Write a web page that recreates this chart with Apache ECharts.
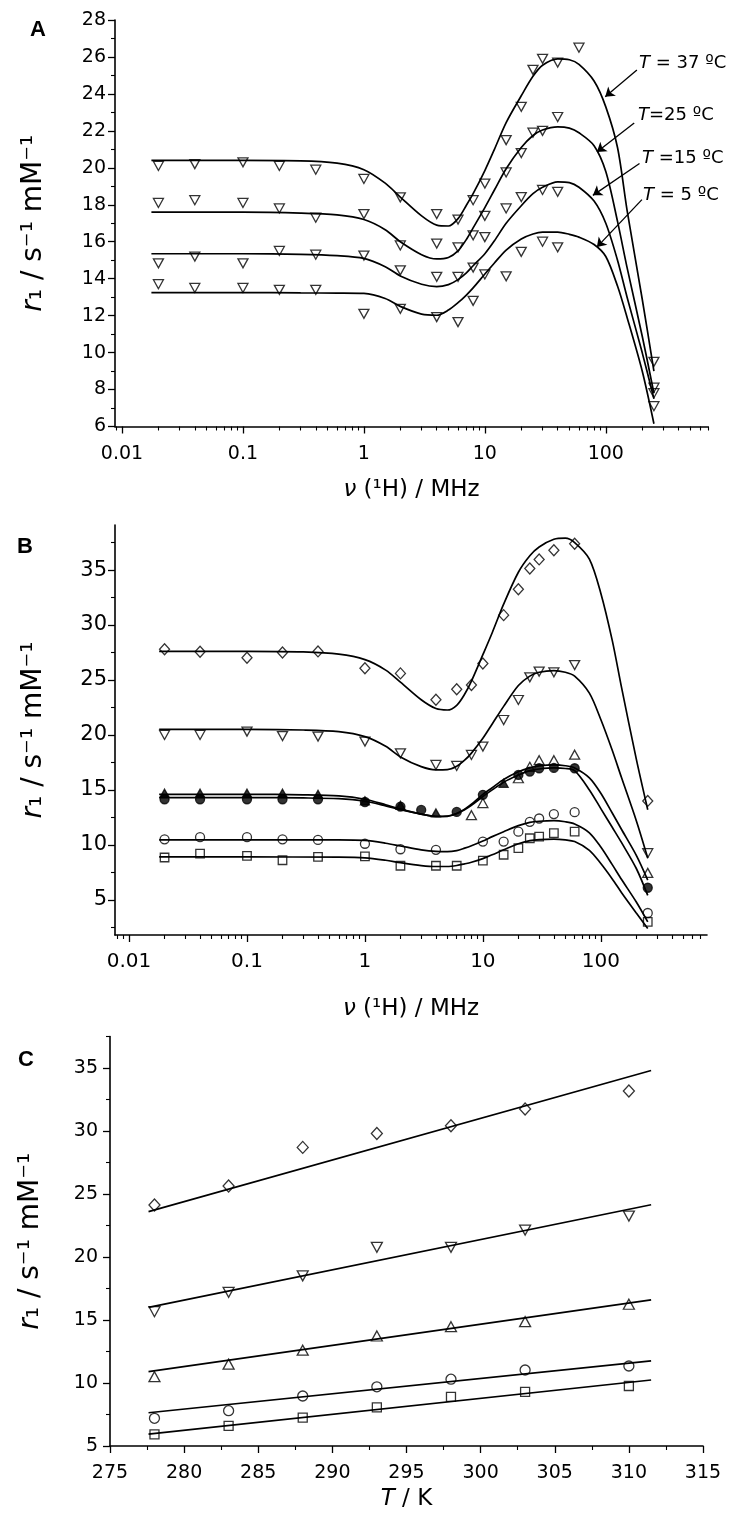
<!DOCTYPE html>
<html>
<head>
<meta charset="utf-8">
<script src="https://cdn.jsdelivr.net/npm/echarts@6/dist/echarts.min.js"></script>
<style>
html,body{margin:0;padding:0;background:#ffffff;}
#chart{width:739px;height:1525px;}
</style>
</head>
<body>
<div id="chart"></div>
<script>
// ---------------- Panel A : NMRD profiles at four temperatures ----------------
const A_T37_pts = [[0.02,20.1],[0.04,20.2],[0.1,20.3],[0.2,20.1],[0.4,19.9],[1,19.4],[2,18.4],[4,17.5],[6,17.2],[8,18.25],[10,19.15],[15,21.5],[20,23.3],[25,25.3],[30,25.9],[40,25.7],[60,26.5],[250,9.5]];
const A_T25_pts = [[0.02,18.1],[0.04,18.25],[0.1,18.1],[0.2,17.8],[0.4,17.3],[1,17.5],[2,15.8],[4,15.9],[6,15.7],[8,16.35],[10,17.4],[15,19.75],[20,20.8],[25,21.9],[30,22.0],[40,22.75],[250,8.1]];
const A_T15_pts = [[0.02,14.83],[0.04,15.2],[0.1,14.83],[0.2,15.5],[0.4,15.3],[1,15.25],[2,14.45],[4,14.1],[6,14.1],[8,14.6],[10,16.25],[15,17.8],[20,18.42],[30,18.8],[40,18.7],[250,7.8]];
const A_T5_pts  = [[0.02,13.7],[0.04,13.5],[0.1,13.5],[0.2,13.4],[0.4,13.4],[1,12.1],[2,12.37],[4,11.92],[6,11.65],[8,12.8],[10,14.23],[15,14.13],[20,15.45],[30,16.0],[40,15.7],[250,7.1]];

const A_T37_fit = [[0.0175,20.4],[0.1,20.4],[0.3,20.38],[0.6,20.25],[1,19.9],[1.5,19.17],[2,18.42],[3,17.4],[4,16.9],[5,16.85],[6,17.25],[7,17.95],[8,18.6],[10,19.85],[12,21.0],[15,22.45],[20,23.9],[25,24.95],[30,25.55],[40,25.9],[50,25.85],[60,25.6],[80,24.7],[100,23.3],[125,21.1],[150,17.7],[200,12.9],[250,9.0]];
const A_T25_fit = [[0.0175,17.6],[0.1,17.6],[0.3,17.55],[0.6,17.45],[1,17.2],[1.5,16.65],[2,16.0],[3,15.3],[4,15.07],[5,15.15],[6,15.5],[7,16.1],[8,16.75],[10,17.85],[12,18.8],[15,19.95],[20,21.1],[25,21.75],[30,22.05],[40,22.22],[50,22.15],[60,21.9],[80,21.2],[100,19.8],[125,17.1],[150,14.6],[200,10.9],[250,7.8]];
const A_T15_fit = [[0.0175,15.35],[0.1,15.35],[0.3,15.32],[0.6,15.25],[1,15.1],[1.5,14.65],[2,14.15],[3,13.7],[4,13.57],[5,13.68],[6,13.95],[7,14.3],[8,14.7],[10,15.35],[12,16.05],[15,17.0],[20,17.95],[25,18.6],[30,18.95],[40,19.24],[50,19.2],[60,18.95],[80,18.2],[100,17.0],[125,15.0],[150,13.0],[200,10.0],[250,7.5]];
const A_T5_fit  = [[0.0175,13.25],[0.1,13.25],[0.3,13.23],[0.6,13.22],[1,13.2],[1.5,12.93],[2,12.5],[3,12.08],[4,12.02],[5,12.3],[6,12.7],[7,13.1],[8,13.5],[10,14.25],[12,14.85],[15,15.55],[20,16.15],[25,16.42],[30,16.52],[40,16.52],[50,16.4],[60,16.25],[80,15.85],[100,15.2],[125,13.6],[150,11.9],[200,9.0],[250,6.15]];

const A_labels = ['T = 37 ºC', 'T=25 ºC', 'T =15 ºC', 'T = 5 ºC'];
// arrow [from, to] in data units (MHz, r1)
const A_arrows = [[[180.8,25.29],[98.9,23.84]],[[171.8,22.43],[84.4,20.86]],[[190,20.23],[78.2,18.51]],[[199,18.28],[84.4,15.71]]];

// ---------------- Panel B : NMRD profiles of different samples ----------------
const B_diamond_pts  = [[0.02,27.79],[0.04,27.57],[0.1,27.03],[0.2,27.5],[0.4,27.6],[1,26.06],[2,25.6],[4,23.2],[6,24.15],[8,24.55],[10,26.5],[15,30.9],[20,33.25],[25,35.15],[30,35.97],[40,36.8],[60,37.4],[250,14.0]];
const B_downTri_pts  = [[0.02,20.0],[0.04,20.0],[0.1,20.3],[0.2,19.9],[0.4,19.85],[1,19.4],[2,18.33],[4,17.27],[6,17.18],[8,18.18],[10,18.94],[15,21.36],[20,23.18],[25,25.24],[30,25.76],[40,25.7],[60,26.36],[250,9.24]];
const B_upTri_pts    = [[8,12.7],[10,13.8],[20,16.06],[25,17.1],[30,17.7],[40,17.7],[60,18.2],[250,7.45]];
const B_upTriF_pts   = [[0.02,14.7],[0.04,14.7],[0.1,14.7],[0.2,14.7],[0.4,14.6],[1,14.0],[2,13.6],[4,12.9],[15,15.6]];
const B_dotF_pts     = [[0.02,14.15],[0.04,14.15],[0.1,14.15],[0.2,14.15],[0.4,14.15],[1,13.9],[2,13.48],[3,13.18],[6,13.0],[10,14.55],[20,16.36],[25,16.67],[30,16.97],[40,17.0],[60,16.97],[250,6.1]];
const B_circle_pts   = [[0.02,10.5],[0.04,10.7],[0.1,10.7],[0.2,10.5],[0.4,10.45],[1,10.1],[2,9.6],[4,9.55],[10,10.3],[15,10.3],[20,11.2],[25,12.1],[30,12.4],[40,12.8],[60,12.97],[250,3.8]];
const B_square_pts   = [[0.02,8.85],[0.04,9.2],[0.1,9.0],[0.2,8.6],[0.4,8.9],[1,8.95],[2,8.1],[4,8.1],[6,8.1],[10,8.57],[15,9.1],[20,9.7],[25,10.6],[30,10.75],[40,11.06],[60,11.2],[250,3.0]];

const B_diamond_fit  = [[0.018,27.6],[0.1,27.6],[0.3,27.55],[0.6,27.35],[1,26.85],[1.5,25.9],[2,24.8],[3,23.2],[4,22.4],[5,22.27],[6,22.7],[7,23.7],[8,24.9],[10,27.3],[12,29.3],[15,31.9],[20,34.8],[25,36.3],[30,37.1],[40,37.8],[50,37.9],[60,37.5],[80,36.0],[100,32.9],[125,28.6],[150,24.3],[200,17.8],[250,13.2]];
const B_downTri_fit  = [[0.018,20.5],[0.1,20.5],[0.3,20.45],[0.6,20.3],[1,19.85],[1.5,18.97],[2,18.0],[3,17.12],[4,16.83],[5,16.85],[6,17.15],[7,17.7],[8,18.35],[10,19.7],[12,21.0],[15,22.6],[20,24.5],[25,25.35],[30,25.7],[40,25.85],[50,25.7],[60,25.35],[80,23.8],[100,21.4],[125,18.6],[150,16.1],[200,12.2],[250,8.8]];
const B_upTri_fit    = [[0.018,14.6],[0.1,14.6],[0.3,14.55],[0.6,14.45],[1,14.15],[1.5,13.65],[2,13.25],[3,12.8],[4,12.58],[5,12.6],[6,12.85],[7,13.25],[8,13.7],[10,14.6],[12,15.2],[15,15.95],[20,16.65],[25,17.0],[30,17.18],[40,17.27],[50,17.2],[60,17.0],[80,16.1],[100,14.7],[125,12.9],[150,11.4],[200,9.05],[250,6.8]];
const B_dotF_fit     = [[0.018,14.3],[0.1,14.3],[0.3,14.27],[0.6,14.2],[1,13.97],[1.5,13.55],[2,13.2],[3,12.8],[4,12.6],[5,12.62],[6,12.85],[7,13.2],[8,13.6],[10,14.4],[12,15.0],[15,15.7],[20,16.35],[25,16.75],[30,16.9],[40,17.0],[50,16.95],[60,16.75],[80,15.0],[100,13.3],[125,11.6],[150,10.2],[200,7.85],[250,5.4]];
const B_circle_fit   = [[0.018,10.45],[0.1,10.45],[0.6,10.45],[1,10.4],[1.5,10.15],[2,9.9],[3,9.55],[4,9.4],[5,9.38],[6,9.48],[7,9.7],[8,9.92],[10,10.35],[12,10.75],[15,11.2],[20,11.75],[25,12.05],[30,12.15],[40,12.2],[50,12.1],[60,11.9],[80,11.1],[100,9.8],[125,8.2],[150,6.85],[200,4.8],[250,3.0]];
const B_square_fit   = [[0.018,8.9],[0.1,8.9],[0.6,8.88],[1,8.82],[1.5,8.6],[2,8.38],[3,8.12],[4,8.03],[5,8.03],[6,8.12],[7,8.27],[8,8.42],[10,8.75],[12,9.1],[15,9.55],[20,10.1],[25,10.38],[30,10.48],[40,10.52],[50,10.45],[60,10.3],[80,9.5],[100,8.3],[125,6.9],[150,5.65],[200,3.8],[250,2.4]];

// ---------------- Panel C : r1 versus temperature ----------------
const C_diamond_pts = [[278,24.13],[283,25.63],[288,28.7],[293,29.8],[298,30.42],[303,31.75],[310,33.17]];
const C_downTri_pts = [[278,15.66],[283,17.2],[288,18.5],[293,20.77],[298,20.77],[303,22.14],[310,23.25]];
const C_upTri_pts   = [[278,10.5],[283,11.5],[288,12.6],[293,13.73],[298,14.47],[303,14.87],[310,16.25]];
const C_circle_pts  = [[278,7.2],[283,7.8],[288,8.97],[293,9.7],[298,10.3],[303,11.03],[310,11.35]];
const C_square_pts  = [[278,5.93],[283,6.6],[288,7.25],[293,8.07],[298,8.9],[303,9.3],[310,9.76]];
const C_diamond_fit = [[277.6,23.6],[311.5,34.8]];
const C_downTri_fit = [[277.6,16.0],[311.5,24.15]];
const C_upTri_fit   = [[277.6,10.9],[311.5,16.6]];
const C_circle_fit  = [[277.6,7.64],[311.5,11.75]];
const C_square_fit  = [[277.6,5.95],[311.5,10.24]];

// ---------------- tick values ----------------
const LOG_major = [0.01, 0.1, 1, 10, 100];
const B_yMajor = [5, 10, 15, 20, 25, 30, 35];
const B_yMinor = [2.5, 7.5, 12.5, 17.5, 22.5, 27.5, 32.5, 37.5];
const C_yMajor = [5, 10, 15, 20, 25, 30, 35];
const C_yMinor = [7.5, 12.5, 17.5, 22.5, 27.5, 32.5, 37.5];

function logMinor(lo, hi) {
  const out = [];
  for (let e = -3; e <= 3; e++) {
    for (let m = 2; m <= 9; m++) {
      const v = +(m * Math.pow(10, e)).toPrecision(3);
      if (v >= lo && v <= hi) out.push(v);
    }
  }
  return out;
}

const FONT = 'DejaVu Sans';
const BLACK = '#000';
const lineW = 1.6;

function fmtLog(v) {
  return v >= 1 ? String(Math.round(v)) : String(+(+v).toPrecision(2));
}

function mainLogX(grid, min, max, name, gap, labSize, labMargin) {
  return {
    type: 'log', logBase: 10, gridIndex: grid, min: min, max: max, position: 'bottom',
    axisLine: { show: true, onZero: false, lineStyle: { color: BLACK, width: lineW } },
    axisTick: { show: true, inside: false, length: 7, customValues: LOG_major, lineStyle: { color: BLACK, width: 1.3 } },
    axisLabel: { show: true, customValues: LOG_major, margin: labMargin, fontFamily: FONT, fontSize: labSize, color: BLACK, formatter: fmtLog },
    splitLine: { show: false }, minorTick: { show: false }, minorSplitLine: { show: false },
    name: name, nameLocation: 'middle', nameGap: gap,
    nameTextStyle: { fontFamily: FONT, fontSize: 23, color: BLACK, rich: { i: { fontFamily: FONT, fontSize: 23, fontStyle: 'italic', color: BLACK } } }
  };
}
function minorLogX(grid, min, max) {
  return {
    type: 'log', logBase: 10, gridIndex: grid, min: min, max: max, position: 'bottom',
    axisLine: { show: false, onZero: false },
    axisTick: { show: true, inside: false, length: 4, customValues: logMinor(min, max), lineStyle: { color: BLACK, width: 1.1 } },
    axisLabel: { show: false }, splitLine: { show: false }
  };
}
function yName(gap) {
  return {
    name: '{i|r}₁ / s⁻¹ mM⁻¹', nameLocation: 'middle', nameRotate: 90, nameGap: gap,
    nameTextStyle: { fontFamily: FONT, fontSize: 28, color: BLACK, rich: { i: { fontFamily: FONT, fontSize: 28, fontStyle: 'italic', color: BLACK } } }
  };
}

const xAxes = [
  mainLogX(0, 0.00875, 700, '{i|ν} (¹H) / MHz', 52, 19, 18),
  minorLogX(0, 0.00875, 700),
  mainLogX(1, 0.0076, 795, '{i|ν} (¹H) / MHz', 63, 20, 17),
  minorLogX(1, 0.0076, 795),
  {
    type: 'value', gridIndex: 2, min: 275, max: 315, interval: 5, position: 'bottom',
    axisLine: { show: true, onZero: false, lineStyle: { color: BLACK, width: lineW } },
    axisTick: { show: true, inside: false, length: 7, lineStyle: { color: BLACK, width: 1.3 } },
    minorTick: { show: true, splitNumber: 2, length: 4, lineStyle: { color: BLACK, width: 1.1 } },
    axisLabel: { margin: 18, fontFamily: FONT, fontSize: 19, color: BLACK },
    splitLine: { show: false },
    name: '{i|T} / K', nameLocation: 'middle', nameGap: 42,
    nameTextStyle: { fontFamily: FONT, fontSize: 23, color: BLACK, rich: { i: { fontFamily: FONT, fontSize: 23, fontStyle: 'italic', color: BLACK } } }
  }
];

const yAxes = [
  Object.assign({
    type: 'value', gridIndex: 0, min: 6, max: 28, interval: 2, position: 'left',
    axisLine: { show: true, onZero: false, lineStyle: { color: BLACK, width: lineW } },
    axisTick: { show: true, inside: false, length: 7, lineStyle: { color: BLACK, width: 1.3 } },
    minorTick: { show: true, splitNumber: 2, length: 4, lineStyle: { color: BLACK, width: 1.1 } },
    axisLabel: { margin: 9, fontFamily: FONT, fontSize: 19, color: BLACK },
    splitLine: { show: false }
  }, yName(67)),
  Object.assign({
    type: 'value', gridIndex: 1, min: 1.8, max: 39.1, position: 'left',
    axisLine: { show: true, onZero: false, lineStyle: { color: BLACK, width: lineW } },
    axisTick: { show: true, inside: false, length: 7, customValues: B_yMajor, lineStyle: { color: BLACK, width: 1.3 } },
    axisLabel: { customValues: B_yMajor, margin: 8, fontFamily: FONT, fontSize: 21, color: BLACK },
    splitLine: { show: false }
  }, yName(67)),
  {
    type: 'value', gridIndex: 1, min: 1.8, max: 39.1, position: 'left',
    axisLine: { show: false, onZero: false },
    axisTick: { show: true, inside: false, length: 4, customValues: B_yMinor, lineStyle: { color: BLACK, width: 1.1 } },
    axisLabel: { show: false }, splitLine: { show: false }
  },
  Object.assign({
    type: 'value', gridIndex: 2, min: 5, max: 37.5, position: 'left',
    axisLine: { show: true, onZero: false, lineStyle: { color: BLACK, width: lineW } },
    axisTick: { show: true, inside: false, length: 7, customValues: C_yMajor, lineStyle: { color: BLACK, width: 1.3 } },
    axisLabel: { customValues: C_yMajor, margin: 12, fontFamily: FONT, fontSize: 19, color: BLACK },
    splitLine: { show: false }
  }, yName(65)),
  {
    type: 'value', gridIndex: 2, min: 5, max: 37.5, position: 'left',
    axisLine: { show: false, onZero: false },
    axisTick: { show: true, inside: false, length: 4, customValues: C_yMinor, lineStyle: { color: BLACK, width: 1.1 } },
    axisLabel: { show: false }, splitLine: { show: false }
  }
];

// axis index lookup: [xAxisIndex, yAxisIndex] per panel
const AX = { A: [0, 0], B: [2, 1], C: [4, 3] };

function fitLine(panel, data, extra) {
  return Object.assign({
    type: 'line', xAxisIndex: AX[panel][0], yAxisIndex: AX[panel][1], data: data,
    showSymbol: false, symbol: 'none', smooth: panel === 'C' ? false : 0.3,
    lineStyle: { color: BLACK, width: 1.7 }, silent: true, z: 2
  }, extra || {});
}
const SHAPES = {
  down:    { symbol: 'triangle', symbolRotate: 180, symbolSize: [10, 9] },
  up:      { symbol: 'triangle', symbolRotate: 0, symbolSize: [10, 9] },
  diamond: { symbol: 'diamond', symbolRotate: 0, symbolSize: [10, 11] },
  circle:  { symbol: 'circle', symbolRotate: 0, symbolSize: 9 },
  square:  { symbol: 'rect', symbolRotate: 0, symbolSize: 8.5 }
};
function marks(panel, data, shape, filled, size) {
  const s = SHAPES[shape];
  return {
    type: 'scatter', xAxisIndex: AX[panel][0], yAxisIndex: AX[panel][1], data: data,
    symbol: s.symbol, symbolRotate: s.symbolRotate, symbolSize: size || s.symbolSize,
    itemStyle: { color: filled ? BLACK : 'rgba(0,0,0,0)', borderColor: BLACK, borderWidth: 1.3 },
    silent: true, z: 3
  };
}

const arrowLines = {
  silent: true, symbol: ['none', 'arrow'], symbolSize: 9, animation: false,
  lineStyle: { color: BLACK, width: 1.3, type: 'solid' }, label: { show: false },
  data: A_arrows.map(a => [{ coord: a[0] }, { coord: a[1] }])
};

const series = [
  fitLine('A', A_T37_fit, { markLine: arrowLines }),
  fitLine('A', A_T25_fit), fitLine('A', A_T15_fit), fitLine('A', A_T5_fit),
  marks('A', A_T37_pts, 'down'), marks('A', A_T25_pts, 'down'),
  marks('A', A_T15_pts, 'down'), marks('A', A_T5_pts, 'down'),

  fitLine('B', B_diamond_fit), fitLine('B', B_downTri_fit), fitLine('B', B_upTri_fit),
  fitLine('B', B_dotF_fit), fitLine('B', B_circle_fit), fitLine('B', B_square_fit),
  marks('B', B_diamond_pts, 'diamond'), marks('B', B_downTri_pts, 'down'),
  marks('B', B_upTri_pts, 'up'), marks('B', B_upTriF_pts, 'up', true, [9, 8]),
  marks('B', B_dotF_pts, 'circle', true, 9), marks('B', B_circle_pts, 'circle'),
  marks('B', B_square_pts, 'square'),

  fitLine('C', C_diamond_fit), fitLine('C', C_downTri_fit), fitLine('C', C_upTri_fit),
  fitLine('C', C_circle_fit), fitLine('C', C_square_fit),
  marks('C', C_diamond_pts, 'diamond', false, [11, 12]), marks('C', C_downTri_pts, 'down', false, [11, 10]),
  marks('C', C_upTri_pts, 'up', false, [11, 10]), marks('C', C_circle_pts, 'circle', false, 10),
  marks('C', C_square_pts, 'square', false, 9)
];

const panelLetter = (txt, x, y) => ({
  type: 'text', x: x, y: y, silent: true,
  style: { text: txt, fontFamily: 'Liberation Sans', fontWeight: 'bold', fontSize: 22, fill: BLACK, align: 'center', verticalAlign: 'middle' }
});
const annoPos = [[639, 63], [638, 115], [642, 158], [643, 195]];
const annoText = (i) => ({
  type: 'text', x: annoPos[i][0], y: annoPos[i][1], silent: true,
  style: {
    text: '{i|T}' + A_labels[i].slice(1), fontFamily: FONT, fontSize: 18, fill: BLACK,
    align: 'left', verticalAlign: 'middle',
    rich: { i: { fontFamily: FONT, fontSize: 18, fontStyle: 'italic', fill: BLACK } }
  }
});

const option = {
  animation: false,
  backgroundColor: '#ffffff',
  grid: [
    { left: 115, top: 20, width: 593, height: 406.5, containLabel: false, outerBoundsMode: 'none' },
    { left: 115, top: 525, width: 592, height: 410, containLabel: false, outerBoundsMode: 'none' },
    { left: 110, top: 1036.5, width: 593, height: 409.5, containLabel: false, outerBoundsMode: 'none' }
  ],
  xAxis: xAxes,
  yAxis: yAxes,
  series: series,
  graphic: [
    panelLetter('A', 38, 30), panelLetter('B', 25, 547), panelLetter('C', 26, 1060),
    annoText(0), annoText(1), annoText(2), annoText(3)
  ]
};

const chart = echarts.init(document.getElementById('chart'), null, { renderer: 'canvas', width: 739, height: 1525 });
chart.setOption(option);
</script>
</body>
</html>
